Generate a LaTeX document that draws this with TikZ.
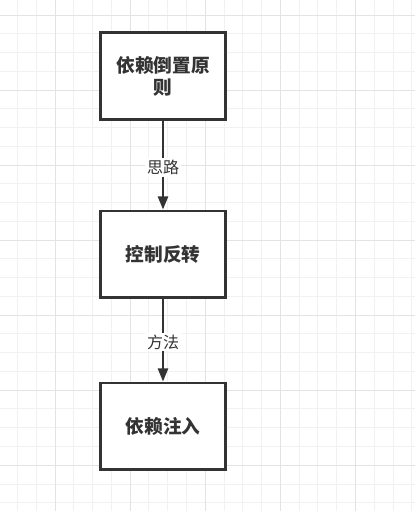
\documentclass[tikz,border=0pt]{standalone}
\usepackage{fontspec}
\newfontfamily\cjk{Noto Sans CJK SC}
\usetikzlibrary{arrows.meta}
\definecolor{ink}{HTML}{333333}
\definecolor{gridminor}{HTML}{F1F1F1}
\definecolor{gridmajor}{HTML}{E3E3E3}
\tikzset{
  stepbox/.style={draw=ink, line width=2pt, fill=white, minimum width=93.75pt, minimum height=65pt,
    align=center, font=\cjk\bfseries\fontsize{14pt}{16.5pt}\selectfont, text=ink, inner sep=2pt},
  flowarrow/.style={draw=ink, line width=2pt, -{Triangle[length=10pt,width=7.5pt]}},
  lbl/.style={fill=white, text=ink, font=\cjk\fontsize{12pt}{14pt}\selectfont, inner sep=1.5pt},
  minorline/.style={draw=gridminor, line width=0.75pt},
  majorline/.style={draw=gridmajor, line width=0.75pt}
}
\begin{document}
\begin{tikzpicture}[x=0.75pt,y=-0.75pt]
\useasboundingbox (0,0) rectangle (415,511);
\fill[white] (0,0) rectangle (415,511);
% grid
\foreach \k in {-2,...,19}{
  \pgfmathsetmacro\gx{55+18.78*\k}
  \draw[minorline] (\gx,0) -- (\gx,511);
}
\foreach \k in {-1,...,26}{
  \pgfmathsetmacro\gy{15+18.76*\k}
  \draw[minorline] (0,\gy) -- (415,\gy);
}
\foreach \k in {-4,0,4,8,12,16}{
  \pgfmathsetmacro\gx{55+18.78*\k}
  \draw[majorline] (\gx,0) -- (\gx,511);
}
\foreach \k in {0,4,8,12,16,20,24}{
  \pgfmathsetmacro\gy{15+18.76*\k}
  \draw[majorline] (0,\gy) -- (415,\gy);
}
% boxes
\node[stepbox] (b1) at (163,76) {依赖倒置原\\则};
\node[stepbox] (b2) at (163,254.3) {控制反转};
\node[stepbox] (b3) at (163,426.3) {依赖注入};
% connectors
\draw[flowarrow] (b1) -- node[lbl, pos=0.53] (l1) {思路} (b2);
\draw[flowarrow] (b2) -- node[lbl, pos=0.52] (l2) {方法} (b3);
\end{tikzpicture}
\end{document}
